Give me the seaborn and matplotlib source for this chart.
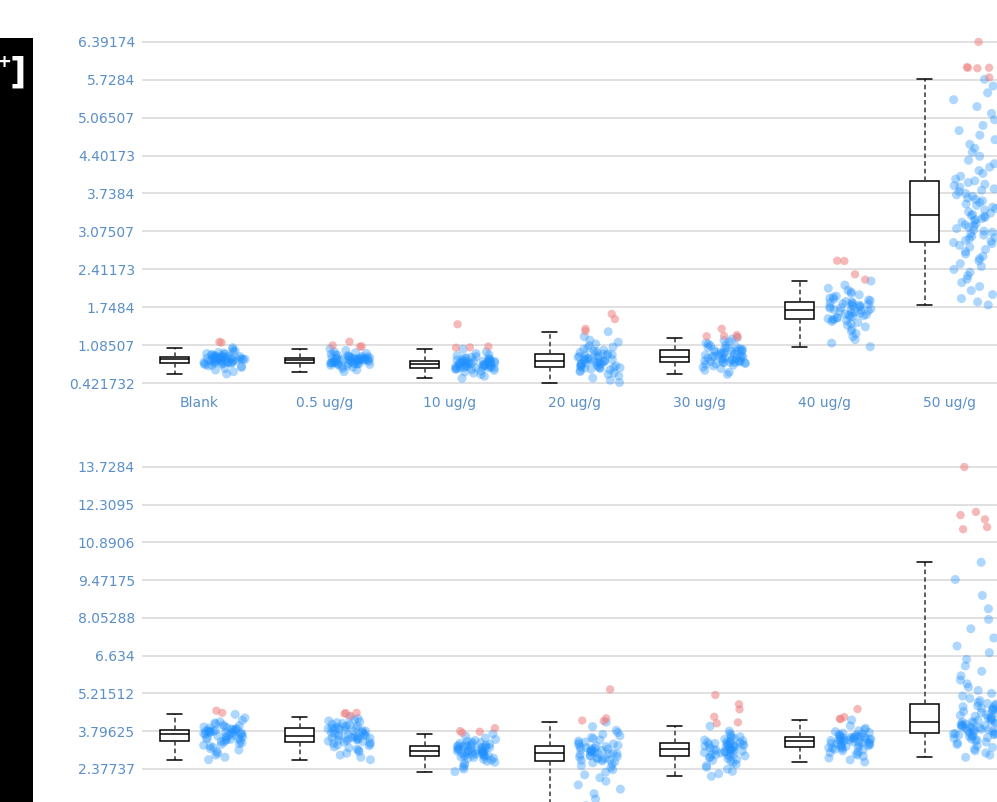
import numpy as np
import pandas as pd
import matplotlib
matplotlib.use("Agg")
import matplotlib.pyplot as plt
from matplotlib.patches import Rectangle
import seaborn as sns

groups = ["Blank", "0.5 ug/g", "10 ug/g", "20 ug/g", "30 ug/g", "40 ug/g", "50 ug/g"]

# ---- upper panel: values ----
top_blank = [0.58, 0.62, 0.65, 0.675, 0.695, 0.71, 0.722, 0.733, 0.742, 0.75, 0.757, 0.763, 0.768, 0.772, 0.776,
             0.78, 0.784, 0.788, 0.792, 0.796, 0.8, 0.804, 0.808, 0.812, 0.816, 0.82, 0.824, 0.828, 0.831, 0.834,
             0.838, 0.841, 0.844, 0.847, 0.85, 0.853, 0.856, 0.859, 0.862, 0.865, 0.868, 0.871, 0.874, 0.877, 0.88,
             0.885, 0.89, 0.895, 0.9, 0.906, 0.912, 0.919, 0.927, 0.936, 0.946, 0.957, 0.97, 0.986, 1.008, 1.04]
top_05 = [0.62, 0.65, 0.675, 0.695, 0.71, 0.722, 0.732, 0.74, 0.746, 0.751, 0.755, 0.758, 0.761, 0.763, 0.765,
          0.769, 0.773, 0.777, 0.781, 0.785, 0.789, 0.793, 0.797, 0.801, 0.805, 0.809, 0.813, 0.816, 0.819, 0.822,
          0.826, 0.829, 0.832, 0.834, 0.837, 0.84, 0.842, 0.845, 0.848, 0.85, 0.853, 0.856, 0.858, 0.861, 0.863,
          0.867, 0.871, 0.876, 0.881, 0.887, 0.893, 0.9, 0.908, 0.917, 0.927, 0.939, 0.952, 0.968, 0.99, 1.02]
top_10 = [0.504, 0.54, 0.57, 0.595, 0.615, 0.63, 0.643, 0.654, 0.663, 0.67, 0.676, 0.68, 0.684, 0.687, 0.689,
          0.693, 0.697, 0.701, 0.705, 0.709, 0.713, 0.718, 0.722, 0.727, 0.731, 0.736, 0.74, 0.745, 0.749, 0.752,
          0.756, 0.76, 0.764, 0.768, 0.772, 0.776, 0.78, 0.784, 0.788, 0.792, 0.796, 0.8, 0.804, 0.807, 0.81,
          0.815, 0.82, 0.826, 0.832, 0.839, 0.846, 0.854, 0.863, 0.873, 0.885, 0.899, 0.916, 0.937, 0.967, 1.015]
top_20 = [0.43, 0.47, 0.51, 0.545, 0.575, 0.6, 0.62, 0.638, 0.652, 0.664, 0.674, 0.682, 0.688, 0.692, 0.695,
          0.7, 0.708, 0.716, 0.724, 0.732, 0.74, 0.748, 0.756, 0.764, 0.772, 0.78, 0.787, 0.794, 0.8, 0.805,
          0.81, 0.818, 0.826, 0.834, 0.842, 0.85, 0.858, 0.866, 0.874, 0.882, 0.891, 0.9, 0.909, 0.918, 0.927,
          0.935, 0.945, 0.956, 0.968, 0.982, 0.997, 1.014, 1.033, 1.054, 1.078, 1.105, 1.136, 1.172, 1.235, 1.32]
top_30 = [0.574, 0.61, 0.645, 0.675, 0.7, 0.72, 0.735, 0.748, 0.758, 0.766, 0.772, 0.777, 0.781, 0.785, 0.788,
          0.792, 0.798, 0.804, 0.81, 0.816, 0.822, 0.829, 0.836, 0.843, 0.85, 0.857, 0.864, 0.87, 0.876, 0.88,
          0.886, 0.894, 0.902, 0.91, 0.918, 0.926, 0.934, 0.942, 0.95, 0.958, 0.966, 0.974, 0.982, 0.99, 0.997,
          1.003, 1.01, 1.018, 1.027, 1.037, 1.048, 1.06, 1.073, 1.088, 1.104, 1.122, 1.142, 1.165, 1.19, 1.215]
top_40 = [1.057, 1.12, 1.18, 1.235, 1.285, 1.33, 1.37, 1.405, 1.435, 1.46, 1.48, 1.498, 1.514, 1.528, 1.539,
          1.548, 1.558, 1.568, 1.578, 1.588, 1.598, 1.608, 1.618, 1.629, 1.64, 1.651, 1.662, 1.673, 1.684, 1.695,
          1.703, 1.712, 1.721, 1.73, 1.739, 1.748, 1.757, 1.766, 1.775, 1.784, 1.793, 1.802, 1.811, 1.82, 1.83,
          1.84, 1.85, 1.862, 1.875, 1.89, 1.906, 1.924, 1.944, 1.966, 1.99, 2.016, 2.045, 2.08, 2.135, 2.207]
top_50 = [1.787, 1.84, 1.9, 1.97, 2.04, 2.11, 2.18, 2.24, 2.3, 2.36, 2.41, 2.46, 2.51, 2.56, 2.6, 2.64,
          2.68, 2.72, 2.76, 2.8, 2.83, 2.86,
          2.88, 2.9, 2.92, 2.945, 2.97, 2.99, 3.01, 3.035, 3.06, 3.08, 3.1, 3.125, 3.15, 3.17, 3.19, 3.21,
          3.235, 3.26, 3.28, 3.3, 3.32, 3.34, 3.355,
          3.37, 3.395, 3.42, 3.45, 3.475, 3.5, 3.53, 3.555, 3.58, 3.61, 3.635, 3.66, 3.69, 3.715, 3.74, 3.77,
          3.795, 3.82, 3.85, 3.875, 3.9, 3.93, 3.96,
          3.99, 4.04, 4.09, 4.14, 4.2, 4.26, 4.32, 4.39, 4.46, 4.53, 4.6, 4.68, 4.76, 4.84, 4.93, 5.03,
          5.14, 5.26, 5.38, 5.5, 5.62, 5.737]
top_outliers = [[1.13, 1.14], [1.06, 1.08, 1.06, 1.145], [1.04, 1.06, 1.045, 1.45],
                [1.33, 1.54, 1.37, 1.63], [1.225, 1.24, 1.37, 1.26, 1.245],
                [2.23, 2.557, 2.324, 2.562], [5.77, 5.94, 5.93, 5.95, 5.94, 6.39174]]
top_ticks = [0.421732, 1.08507, 1.7484, 2.41173, 3.07507, 3.7384, 4.40173, 5.06507, 5.7284, 6.39174]
top_ticklabels = ["0.421732", "1.08507", "1.7484", "2.41173", "3.07507", "3.7384",
                  "4.40173", "5.06507", "5.7284", "6.39174"]

# ---- lower panel ----
bot_blank = [2.727, 2.82, 2.9, 2.97, 3.03, 3.09, 3.14, 3.19, 3.23, 3.27, 3.3, 3.33, 3.36, 3.39, 3.415,
             3.44, 3.458, 3.476, 3.494, 3.512, 3.53, 3.548, 3.566, 3.584, 3.602, 3.62, 3.638, 3.656, 3.672, 3.688,
             3.7, 3.711, 3.722, 3.733, 3.744, 3.755, 3.766, 3.777, 3.788, 3.799, 3.81, 3.821, 3.832, 3.843, 3.856,
             3.87, 3.885, 3.9, 3.918, 3.937, 3.958, 3.982, 4.008, 4.037, 4.07, 4.108, 4.152, 4.205, 4.3, 4.43]
bot_05 = [2.727, 2.82, 2.9, 2.97, 3.03, 3.08, 3.13, 3.17, 3.21, 3.25, 3.28, 3.31, 3.34, 3.365, 3.39,
          3.41, 3.426, 3.442, 3.458, 3.474, 3.49, 3.506, 3.522, 3.538, 3.554, 3.57, 3.586, 3.602, 3.614, 3.626,
          3.64, 3.66, 3.68, 3.7, 3.72, 3.74, 3.76, 3.78, 3.8, 3.82, 3.84, 3.86, 3.875, 3.89, 3.905,
          3.92, 3.935, 3.952, 3.97, 3.99, 4.012, 4.036, 4.062, 4.09, 4.12, 4.152, 4.186, 4.225, 4.275, 4.33]
bot_10 = [2.28, 2.37, 2.45, 2.52, 2.58, 2.63, 2.67, 2.71, 2.74, 2.77, 2.79, 2.81, 2.828, 2.842, 2.852,
          2.866, 2.88, 2.894, 2.908, 2.922, 2.936, 2.95, 2.964, 2.978, 2.992, 3.006, 3.02, 3.032, 3.043, 3.052,
          3.066, 3.079, 3.092, 3.105, 3.118, 3.131, 3.144, 3.157, 3.17, 3.183, 3.196, 3.209, 3.221, 3.232, 3.241,
          3.25, 3.262, 3.275, 3.29, 3.306, 3.324, 3.344, 3.366, 3.39, 3.418, 3.45, 3.49, 3.54, 3.61, 3.7]
bot_20 = [1.0, 1.25, 1.45, 1.62, 1.78, 1.92, 2.05, 2.16, 2.26, 2.35, 2.43, 2.5, 2.56, 2.61, 2.65,
          2.68, 2.7, 2.72, 2.74, 2.76, 2.78, 2.8, 2.82, 2.845, 2.87, 2.895, 2.915, 2.935, 2.95, 2.965,
          2.98, 2.998, 3.016, 3.034, 3.052, 3.07, 3.088, 3.106, 3.124, 3.142, 3.16, 3.18, 3.2, 3.22, 3.24,
          3.26, 3.29, 3.32, 3.355, 3.39, 3.43, 3.47, 3.515, 3.565, 3.62, 3.68, 3.75, 3.83, 3.97, 4.14]
bot_30 = [2.103, 2.2, 2.29, 2.37, 2.44, 2.5, 2.56, 2.61, 2.66, 2.7, 2.74, 2.77, 2.8, 2.825, 2.848,
          2.87, 2.888, 2.906, 2.924, 2.942, 2.96, 2.978, 2.996, 3.014, 3.032, 3.05, 3.068, 3.085, 3.1, 3.112,
          3.13, 3.145, 3.16, 3.175, 3.19, 3.205, 3.22, 3.235, 3.25, 3.265, 3.28, 3.295, 3.31, 3.325, 3.338,
          3.35, 3.365, 3.382, 3.4, 3.42, 3.442, 3.466, 3.492, 3.52, 3.552, 3.59, 3.64, 3.7, 3.8, 3.99]
bot_40 = [2.64, 2.72, 2.79, 2.85, 2.9, 2.95, 2.99, 3.03, 3.06, 3.09, 3.12, 3.14, 3.16, 3.178, 3.192,
          3.21, 3.225, 3.24, 3.255, 3.27, 3.285, 3.3, 3.315, 3.33, 3.345, 3.36, 3.375, 3.39, 3.405, 3.42,
          3.44, 3.45, 3.46, 3.47, 3.48, 3.49, 3.5, 3.51, 3.52, 3.53, 3.54, 3.55, 3.56, 3.568, 3.576,
          3.59, 3.605, 3.62, 3.638, 3.657, 3.678, 3.7, 3.725, 3.752, 3.782, 3.815, 3.855, 3.91, 4.0, 4.22]
bot_50 = [2.817, 2.9, 2.98, 3.06, 3.13, 3.19, 3.25, 3.3, 3.35, 3.39, 3.43, 3.47, 3.5, 3.53, 3.56, 3.59,
          3.61, 3.63, 3.65, 3.67, 3.685, 3.7,
          3.71, 3.73, 3.75, 3.77, 3.79, 3.81, 3.83, 3.85, 3.87, 3.89, 3.91, 3.93, 3.95, 3.97, 3.99, 4.01,
          4.03, 4.05, 4.07, 4.09, 4.105, 4.12, 4.13,
          4.15, 4.18, 4.21, 4.24, 4.27, 4.3, 4.33, 4.36, 4.39, 4.42, 4.46, 4.5, 4.54, 4.57, 4.6, 4.63,
          4.66, 4.69, 4.72, 4.75, 4.78, 4.81, 4.84,
          4.88, 4.95, 5.03, 5.12, 5.22, 5.33, 5.45, 5.58, 5.72, 5.88, 6.05, 6.25, 6.5, 6.75, 7.0, 7.3,
          7.65, 8.0, 8.4, 8.9, 9.5, 10.146]
bot_outliers = [[4.49, 4.57], [4.38, 4.49, 4.46, 4.48], [3.74, 3.8, 3.78, 3.91],
                [4.2, 4.28, 4.18, 5.37], [4.095, 4.34, 5.16, 4.81, 4.62, 4.13],
                [4.26, 4.33, 4.26, 4.63], [11.39, 11.76, 11.47, 12.04, 11.92, 13.7284]]
bot_ticks = [0.958496, 2.37737, 3.79625, 5.21512, 6.634, 8.05288, 9.47175, 10.8906, 12.3095, 13.7284]
bot_ticklabels = ["0.958496", "2.37737", "3.79625", "5.21512", "6.634", "8.05288",
                  "9.47175", "10.8906", "12.3095", "13.7284"]

label_color = "#5a8fc8"
point_color = "#1e90ff"
outlier_color = "#f08080"

np.random.seed(3)
sns.set_style("white")


def frames(inliers, outliers):
    rows, outs = [], []
    for g, vals, ovals in zip(groups, inliers, outliers):
        rows += [(g, v) for v in vals]
        outs += [(g, v) for v in ovals]
    df = pd.DataFrame(rows, columns=["group", "value"])
    od = pd.DataFrame(outs, columns=["group", "value"])
    return df, od


def draw(ax, inliers, outliers, ticks, ticklabels, ylim):
    df, od = frames(inliers, outliers)
    box_df = df.assign(side="box")
    pts_df = df.assign(side="pts")
    od = od.assign(side="pts")
    hue_order = ["box", "pts"]

    sns.boxplot(data=box_df, x="group", y="value", hue="side", hue_order=hue_order,
                order=groups, dodge=True, width=0.8, gap=0.42, whis=(0, 100),
                showfliers=False, legend=False, ax=ax,
                palette={"box": "white", "pts": "white"}, linecolor="black", linewidth=1.1,
                whiskerprops={"linestyle": (0, (3, 2)), "color": "#333333"},
                medianprops={"color": "black"})
    sns.stripplot(data=pts_df, x="group", y="value", hue="side", hue_order=hue_order,
                  order=groups, dodge=True, jitter=0.344, size=6.5, linewidth=0,
                  alpha=0.36, palette={"box": point_color, "pts": point_color},
                  legend=False, ax=ax)
    sns.stripplot(data=od, x="group", y="value", hue="side", hue_order=hue_order,
                  order=groups, dodge=True, jitter=0.344, size=6, linewidth=0,
                  alpha=0.55, palette={"box": outlier_color, "pts": outlier_color},
                  legend=False, ax=ax)

    ax.set_xlim(-0.46, 6.46)
    ax.set_ylim(*ylim)
    ax.set_yticks(ticks)
    ax.set_yticklabels(ticklabels)
    ax.set_xlabel("")
    ax.set_ylabel("")
    ax.grid(axis="y", color="#dadada", linewidth=1.2)
    ax.grid(axis="x", visible=False)
    ax.set_axisbelow(True)
    for s in ax.spines.values():
        s.set_visible(False)
    ax.tick_params(axis="both", length=0, labelsize=10, labelcolor=label_color)
    ax.tick_params(axis="y", pad=5)
    ax.tick_params(axis="x", pad=4)


fig = plt.figure(figsize=(9.97, 8.02), dpi=100)
W, H = 997.0, 802.0

ax_top = fig.add_axes([142 / W, 1 - 390 / H, 865 / W, 358 / H])
draw(ax_top, [top_blank, top_05, top_10, top_20, top_30, top_40, top_50],
     top_outliers, top_ticks, top_ticklabels, (0.29922, 6.56494))

ax_bot = fig.add_axes([142 / W, 1 - 815 / H, 865 / W, 360 / H])
draw(ax_bot, [bot_blank, bot_05, bot_10, bot_20, bot_30, bot_40, bot_50],
     bot_outliers, bot_ticks, bot_ticklabels, (0.6483, 14.1794))
# the category labels of the lower panel fall below the screenshot edge
ax_bot.tick_params(axis="x", labelbottom=False)

# black side strip at the left edge of the screenshot
fig.patches.append(Rectangle((0, 0), 33 / W, (H - 38) / H, transform=fig.transFigure,
                             facecolor="black", edgecolor="none", zorder=0))
fig.text(26 / W, 1 - 73 / H, "]", color="white", fontsize=26, fontweight="bold",
         family="DejaVu Sans", ha="right", va="center")
fig.text(11 / W, 1 - 62 / H, "+", color="white", fontsize=13, fontweight="bold",
         family="DejaVu Sans", ha="right", va="center")

fig.savefig("out.png", dpi=100)
